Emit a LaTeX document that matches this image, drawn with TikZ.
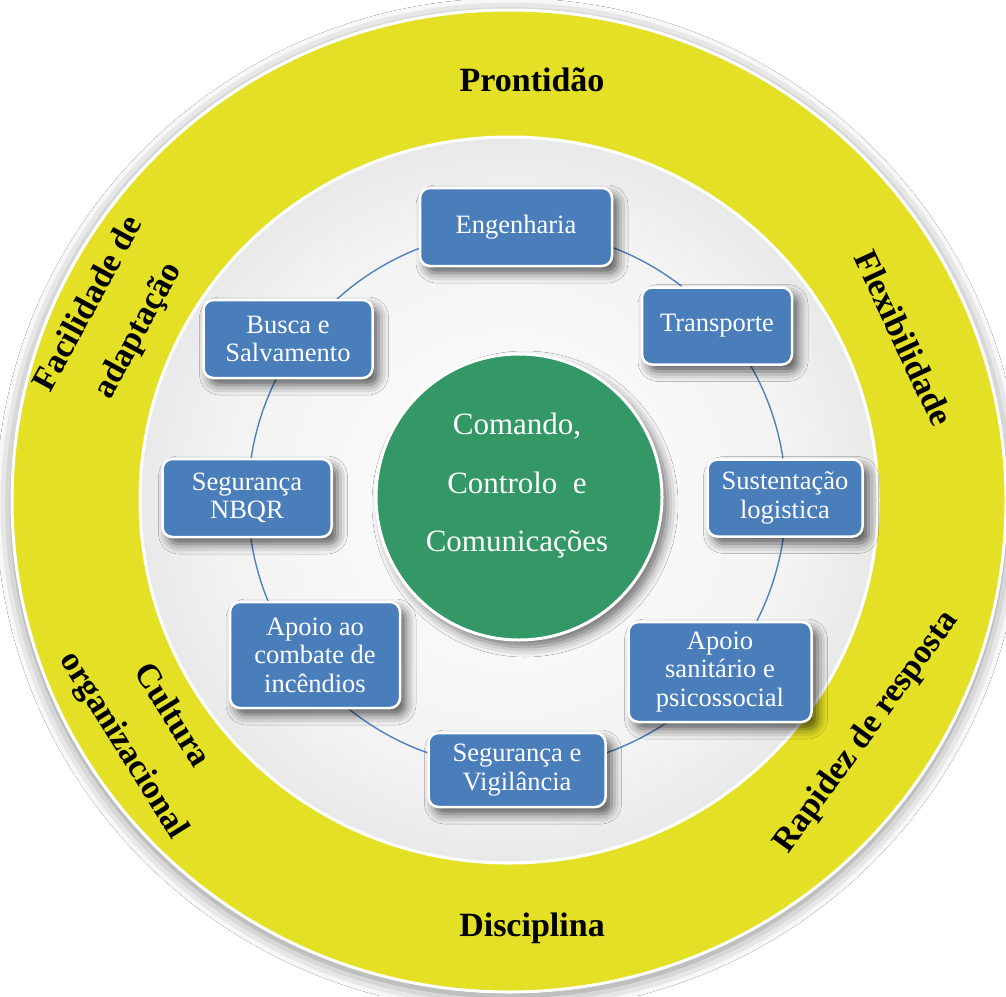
\documentclass[tikz,border=0pt]{standalone}
\usepackage{fontspec}
\setmainfont{Liberation Serif}
\usetikzlibrary{shadows.blur}
\definecolor{ringyellow}{RGB}{228,224,38}
\definecolor{boxblue}{RGB}{74,126,187}
\definecolor{cgreen}{RGB}{52,152,102}
\definecolor{linkblue}{RGB}{79,129,189}
\pgfdeclareradialshading{discshade}{\pgfpoint{0bp}{0bp}}{color(0bp)=(white); color(20bp)=(white!95!black); color(32bp)=(white!86!black); color(42bp)=(white!76!black); color(50bp)=(white!58!black); color(100bp)=(white!58!black)}
\begin{document}
\begin{tikzpicture}[x=1pt,y=-1pt,
  box/.style={rectangle, rounded corners=10pt, fill=boxblue, draw=white, line width=2.5pt,
    text=white, align=center, font=\fontsize{26.5}{28.5}\selectfont, inner sep=2pt,
    blur shadow={shadow xshift=6pt, shadow yshift=-7pt, shadow blur radius=10pt, shadow opacity=65}},
  ringtxt/.style={font=\bfseries\fontsize{34}{56}\selectfont, text=black, align=center},
  link/.style={draw=linkblue, line width=1.4pt}]
\useasboundingbox (0,0) rectangle (1006,996);
\fill[white] (0,0) rectangle (1006,996);
% outer yellow ring
\path[fill=ringyellow, draw=white, line width=3pt,
  blur shadow={shadow xshift=0pt, shadow yshift=-4pt, shadow blur radius=16pt, shadow opacity=50}]
  (509,501) ellipse [x radius=497pt, y radius=491pt];
% inner disc
\path[shading=discshade, draw=white, line width=3pt]
  (509,500) ellipse [x radius=369pt, y radius=363pt];
% ring connector
\coordinate (hub) at (517,499);
\draw[link] (hub) circle (269pt);
% centre circle
\node[circle, fill=cgreen, draw=white, line width=3pt, minimum size=286pt,
  blur shadow={shadow xshift=6pt, shadow yshift=-7pt, shadow blur radius=10pt, shadow opacity=55}] (c3) at (519,497) {};
\node[text=white, align=center, font=\fontsize{31}{58.5}\selectfont] (c3t) at (517,486)
  {Comando,\\Controlo~ e\\Comunicações};
% boxes
\node[box, minimum width=192pt, minimum height=78pt] (eng) at (516,227) {Engenharia};
\node[box, minimum width=150pt, minimum height=77pt] (trans) at (717,326) {Transporte};
\node[box, minimum width=155pt, minimum height=77pt] (sust) at (785,498) {Sustentação\\logistica};
\node[box, minimum width=183pt, minimum height=100pt] (sanit) at (720,672) {Apoio\\sanitário e\\psicossocial};
\node[box, minimum width=177pt, minimum height=74pt] (vigil) at (517,770) {Segurança e\\Vigilância};
\node[box, minimum width=170pt, minimum height=106pt] (incend) at (315,655) {Apoio ao\\combate de\\incêndios};
\node[box, minimum width=169pt, minimum height=78pt] (nbqr) at (247,498) {Segurança\\NBQR};
\node[box, minimum width=169pt, minimum height=78pt] (busca) at (288,339) {Busca e\\Salvamento};
% ring texts
\node[ringtxt] (pront) at (532,80) {Prontidão};
\node[ringtxt] (disc) at (532,928) {Disciplina};
\node[ringtxt, rotate=-65] (flex) at (904,338) {Flexibilidade};
\node[ringtxt, rotate=54] (rap) at (867,732) {Rapidez de resposta};
\node[ringtxt, rotate=61.5] (facil) at (114,318) {Facilidade de\\adaptação};
\node[ringtxt, rotate=-58] (cult) at (147,731) {Cultura\\organizacional};
\end{tikzpicture}
\end{document}
